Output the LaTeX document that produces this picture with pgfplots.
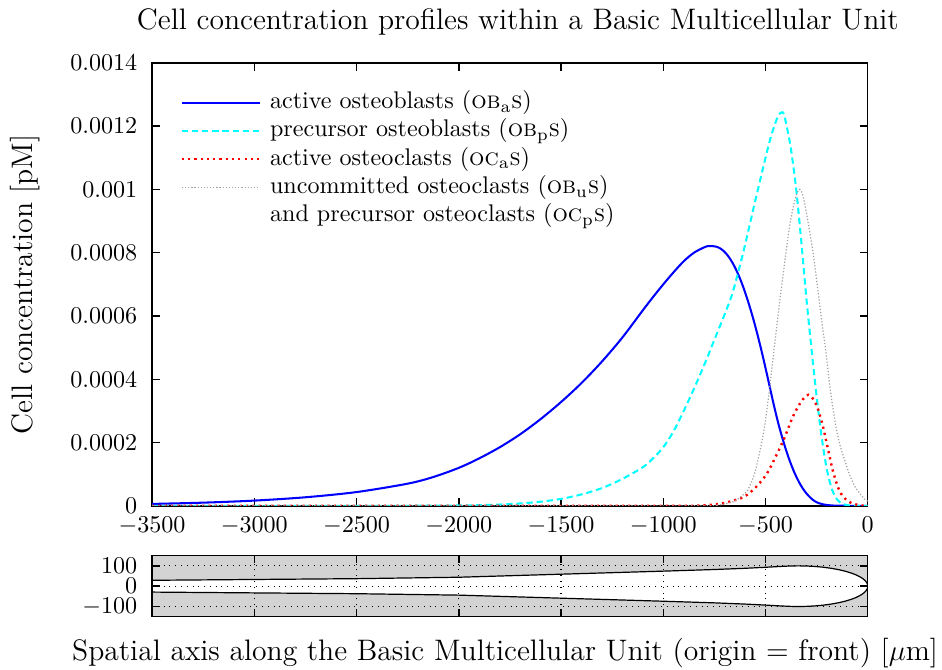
\documentclass[border=0pt]{standalone}
\usepackage{pgfplots}
\pgfplotsset{compat=1.18}
\definecolor{obaBlue}{RGB}{0,0,255}
\definecolor{obpCyan}{RGB}{0,255,255}
\definecolor{ocaRed}{RGB}{255,0,0}
\definecolor{ocpGray}{RGB}{160,160,160}
\definecolor{boneGray}{RGB}{211,211,211}
\newcommand{\labelfont}{\fontsize{12.3pt}{15pt}\selectfont}
\begin{document}
\begin{tikzpicture}
\pgfplotsset{
  every axis/.append style={
    scale only axis, width=297pt, xmin=-3500, xmax=0,
    line width=0.6pt, major tick length=3.2pt,
    tick style={line width=0.6pt, black},
    /pgf/number format/1000 sep={},
  },
}
% main panel: concentration profiles
\begin{axis}[
  name=main, at={(0,0)}, anchor=south west,
  height=183.8pt,
  ymin=0, ymax=0.0014,
  xtick={-3500,-3000,-2500,-2000,-1500,-1000,-500,0},
  ytick={0,0.0002,0.0004,0.0006,0.0008,0.001,0.0012,0.0014},
  scaled y ticks=false,
  yticklabel style={/pgf/number format/fixed, /pgf/number format/precision=4,
    xshift=-2.5pt, inner ysep=0pt},
  xticklabel style={yshift=-4.5pt, inner ysep=0pt},
  title={Cell concentration profiles within a Basic Multicellular Unit},
  title style={at={(axis description cs:0.5,1)}, anchor=base, yshift=7.8pt, xshift=3.3pt, font=\labelfont},
  ylabel={Cell concentration [pM]},
  ylabel style={at={(axis description cs:-0.1774,0.5)}, anchor=center, font=\labelfont},
  legend cell align=left,
  legend image code/.code={\draw[#1] (0pt,0pt) -- (32.4pt,0pt);},
  legend style={draw=none, fill=none, inner sep=0pt, column sep=2.7pt, row sep=0pt,
    at={(axis description cs:0.039,0.944)}, anchor=north west,
    nodes={inner sep=1pt, text height=7.4pt, text depth=2.35pt}},
]
\addplot[obaBlue, line width=0.85pt, smooth] table[y expr=\thisrow{c}*1e-4] {
x c
-3500 0.06
-3250 0.10
-3000 0.165
-2750 0.27
-2500 0.435
-2250 0.70
-2125 0.91
-2000 1.20
-1900 1.50
-1800 1.85
-1700 2.26
-1600 2.74
-1500 3.28
-1400 3.88
-1300 4.56
-1200 5.32
-1100 6.18
-1050 6.60
-1000 7.00
-950 7.38
-900 7.73
-850 8.00
-800 8.17
-780 8.21
-760 8.21
-740 8.19
-720 8.13
-700 8.025
-680 7.87
-660 7.665
-640 7.41
-620 7.105
-600 6.75
-580 6.35
-560 5.91
-540 5.43
-520 4.91
-500 4.355
-480 3.78
-460 3.205
-440 2.67
-420 2.195
-400 1.77
-380 1.395
-360 1.07
-340 0.795
-320 0.57
-300 0.392
-280 0.254
-260 0.15
-240 0.085
-220 0.048
-200 0.025
-180 0.013
-160 0.006
-140 0.003
-100 0.0005
-50 0
0 0
};
\addlegendentry{active osteoblasts (\textsc{ob$_\mathrm{a}$s})}
\addplot[obpCyan, line width=0.85pt, dash pattern=on 2.6pt off 1.6pt, smooth] table[y expr=\thisrow{c}*1e-4] {
x c
-3500 0
-2500 0
-2200 0.002
-2000 0.01
-1900 0.02
-1800 0.04
-1700 0.075
-1600 0.13
-1500 0.22
-1400 0.36
-1300 0.56
-1200 0.85
-1100 1.22
-1050 1.50
-1000 1.85
-950 2.35
-900 3.00
-850 3.70
-800 4.45
-750 5.25
-700 6.05
-665 6.65
-635 7.35
-600 8.25
-550 9.65
-500 11.0
-480 11.52
-460 11.95
-445 12.22
-430 12.40
-420 12.44
-410 12.38
-395 11.95
-375 11.25
-350 10.0
-325 8.35
-300 6.55
-275 4.95
-250 3.45
-225 2.15
-200 1.15
-175 0.52
-150 0.20
-125 0.07
-100 0.02
-75 0.005
-50 0
0 0
};
\addlegendentry{precursor osteoblasts (\textsc{ob$_\mathrm{p}$s})}
\addplot[ocaRed, line width=1pt, dash pattern=on 0.9pt off 1.7pt, smooth] table[y expr=\thisrow{c}*1e-4] {
x c
-3500 0
-2500 0
-1500 0
-900 0
-822 0.01
-754 0.04
-700 0.09
-670 0.14
-603 0.29
-544 0.61
-492 1.03
-450 1.56
-408 2.14
-366 2.82
-330 3.25
-310 3.42
-291 3.51
-270 3.40
-248 3.14
-223 2.61
-197 1.87
-172 1.14
-147 0.61
-130 0.38
-113 0.24
-90 0.12
-63 0.05
-30 0.01
0 0
};
\addlegendentry{active osteoclasts (\textsc{oc$_\mathrm{a}$s})}
\addplot[ocpGray, line width=0.5pt, dash pattern=on 0.5pt off 0.8pt, smooth] table[y expr=\thisrow{c}*1e-4] {
x c
-3500 0
-2500 0
-1500 0
-800 0
-740 0.02
-700 0.06
-650 0.15
-600 0.40
-586 0.51
-550 1.10
-510 2.30
-484 3.50
-459 4.90
-430 6.50
-408 7.60
-392 8.40
-375 9.10
-355 9.70
-335 10.00
-316 9.78
-291 8.93
-265 7.88
-240 6.61
-220 5.60
-206 4.93
-181 3.56
-156 2.51
-135 1.90
-113 1.45
-90 1.00
-63 0.61
-40 0.40
-12 0.19
0 0.15
};
\addlegendentry{uncommitted osteoclasts (\textsc{ob$_\mathrm{u}$s})}
\addlegendimage{empty legend}
\addlegendentry{and precursor osteoclasts (\textsc{oc$_\mathrm{p}$s})}
\end{axis}
% bottom panel: BMU cavity profile
\begin{axis}[
  name=shape, at={(0,-20.7pt)}, anchor=north west,
  height=25.3pt,
  ymin=-150, ymax=150,
  xtick={-3500,-3000,-2500,-2000,-1500,-1000,-500,0}, xticklabels={},
  ytick={-100,0,100},
  yticklabel style={xshift=-2.5pt, inner ysep=0pt},
  grid=major, grid style={dotted, line width=0.45pt, black},
  axis background/.style={fill=boneGray},
  axis on top,
]
\addplot[draw=black, line width=0.5pt, fill=white] coordinates {
(-3500,29)(-3000,33)(-2500,37)(-2000,44)(-1500,59)(-1000,74)(-750,82)(-600,88)
(-500,93)(-430,97)(-380,99.3)(-340,100)(-300,99.3)(-260,97.2)(-220,93.6)
(-180,88.2)(-140,80.9)(-110,73.6)(-80,64.4)(-60,56.7)(-40,47.1)(-25,37.6)
(-15,29.4)(-8,21.6)(-3,13.2)(-1,7.7)(0,0)
(-1,-7.7)(-3,-13.2)(-8,-21.6)(-15,-29.4)(-25,-37.6)(-40,-47.1)(-60,-56.7)
(-80,-64.4)(-110,-73.6)(-140,-80.9)(-180,-88.2)(-220,-93.6)(-260,-97.2)
(-300,-99.3)(-340,-100)(-380,-99.3)(-430,-97)(-500,-93)(-600,-88)(-750,-82)
(-1000,-74)(-1500,-59)(-2000,-44)(-2500,-37)(-3000,-33)(-3500,-29)};
\end{axis}
\node[font=\labelfont, anchor=center] at (146.5pt,-61pt)
  {Spatial axis along the Basic Multicellular Unit (origin = front) [$\mu$m]};
\pgfresetboundingbox
\path[use as bounding box] (-63.1pt,-68pt) rectangle (327.8pt,209.9pt);
\end{tikzpicture}
\end{document}
